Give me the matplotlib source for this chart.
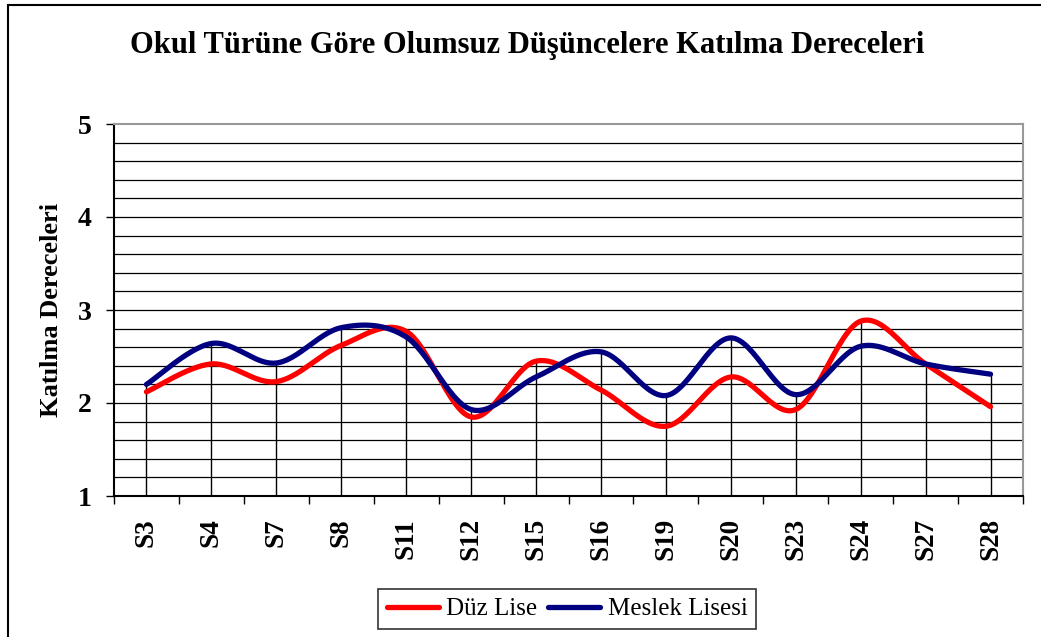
import numpy as np
import matplotlib
matplotlib.use("Agg")
import matplotlib.pyplot as plt
from matplotlib.patches import Rectangle

categories = ["S3", "S4", "S7", "S8", "S11", "S12", "S15", "S16", "S19", "S20", "S23", "S24", "S27", "S28"]
duz_lise = [2.12, 2.42, 2.23, 2.62, 2.77, 1.85, 2.45, 2.14, 1.75, 2.28, 1.93, 2.88, 2.42, 1.96]
meslek_lisesi = [2.20, 2.64, 2.43, 2.81, 2.71, 1.93, 2.28, 2.55, 2.08, 2.70, 2.09, 2.61, 2.42, 2.31]

title = "Okul Türüne Göre Olumsuz Düşüncelere Katılma Dereceleri"
ylabel = "Katılma Dereceleri"
series_names = ["Düz Lise", "Meslek Lisesi"]
colors = ["#FF0000", "#000080"]

plt.rcParams['font.family'] = ['Liberation Serif', 'DejaVu Serif']


def smooth(xs, ys, n=30):
    xs = np.asarray(xs, float)
    ys = np.asarray(ys, float)
    P = np.column_stack([xs, ys])
    Pe = np.vstack([P[0], P, P[-1]])
    out = []
    t = np.linspace(0, 1, n)
    for i in range(len(P) - 1):
        p0, p1, p2, p3 = Pe[i], Pe[i + 1], Pe[i + 2], Pe[i + 3]
        c1 = p1 + (p2 - p0) / 6.0
        c2 = p2 - (p3 - p1) / 6.0
        seg = ((1 - t) ** 3)[:, None] * p1 + (3 * (1 - t) ** 2 * t)[:, None] * c1 \
            + (3 * (1 - t) * t ** 2)[:, None] * c2 + (t ** 3)[:, None] * p2
        out.append(seg if i == 0 else seg[1:])
    out = np.vstack(out)
    return out[:, 0], out[:, 1]


W, H = 1041, 637
fig = plt.figure(figsize=(W / 100, H / 100), dpi=100)
fig.patch.set_facecolor("white")
fig.add_artist(Rectangle((8 / W, -0.1), 1.2, 1 - 5 / H + 0.1, transform=fig.transFigure,
                         fill=False, edgecolor="black", linewidth=1.5))

ax = fig.add_axes([114 / W, (H - 496) / H, 909 / W, 372 / H])
x = np.arange(len(categories))

ax.set_xlim(-0.5, len(categories) - 0.5)
ax.set_ylim(1, 5)

# gridlines every 0.2
for v in np.arange(1.2, 5.0, 0.2):
    ax.axhline(v, color="black", linewidth=0.9, zorder=1)

# drop lines from the highest series to the axis
tops = np.maximum(duz_lise, meslek_lisesi)
ax.vlines(x, 1, tops, color="black", linewidth=1.0, zorder=1)

for vals, c, name in zip([duz_lise, meslek_lisesi], colors, series_names):
    sx, sy = smooth(x, vals)
    ax.plot(sx, sy, color=c, linewidth=3.8, solid_capstyle="round", label=name, zorder=3)

ax.set_yticks([1, 2, 3, 4, 5])
ax.set_yticklabels(["1", "2", "3", "4", "5"], fontsize=20, fontweight="bold")
ax.set_xticks(np.arange(-0.5, len(categories), 1.0))
ax.set_xticklabels([])
ax.set_xticks(x, minor=True)
ax.set_xticklabels(categories, minor=True, rotation=90, fontsize=19.5, fontweight="bold")
ax.tick_params(axis="x", which="major", length=6, width=1, direction="out", color="black")
ax.tick_params(axis="x", which="minor", length=0, pad=16)
ax.tick_params(axis="y", which="major", length=6, width=1, direction="out", pad=10)

for s in ["left", "bottom"]:
    ax.spines[s].set_color("black")
    ax.spines[s].set_linewidth(1.5)
for s in ["top", "right"]:
    ax.spines[s].set_color("#999999")
    ax.spines[s].set_linewidth(1.5)

ax.set_ylabel(ylabel, fontsize=19, fontweight="bold")
ax.yaxis.set_label_coords(-(114 - 63) / 909, 0.5)

fig.text(527 / W, 1 - 46 / H, title, ha="center", va="center", fontsize=22, fontweight="bold")

leg = fig.legend(loc="center", bbox_to_anchor=(567 / W, 1 - 609 / H), ncol=2, fontsize=18,
                 frameon=True, fancybox=False, edgecolor="black", handlelength=2.1,
                 handletextpad=0.3, columnspacing=0.4, borderpad=0.35)
leg.get_frame().set_linewidth(1.2)

fig.savefig("out.png", dpi=100, facecolor="white")
